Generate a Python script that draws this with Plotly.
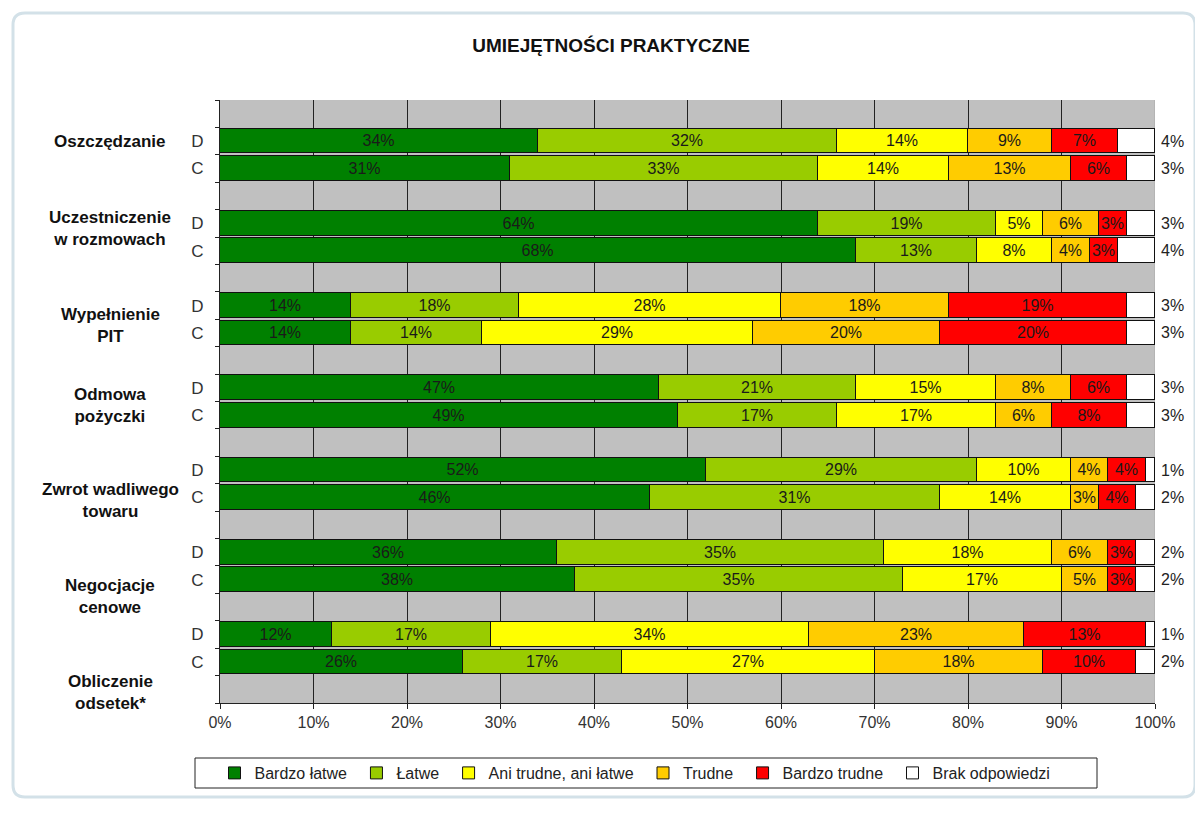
import plotly.graph_objects as go

# ---------------- data ----------------
groups = ["Oszczędzanie", "Uczestniczenie<br>w rozmowach", "Wypełnienie<br>PIT",
          "Odmowa<br>pożyczki", "Zwrot wadliwego<br>towaru", "Negocjacje<br>cenowe",
          "Obliczenie<br>odsetek*"]
subgroups = ["D", "C"]
series_names = ["Bardzo łatwe", "Łatwe", "Ani trudne, ani łatwe", "Trudne",
                "Bardzo trudne", "Brak odpowiedzi"]

# order of rows: for each group D then C
bardzo_latwe = [34, 31, 64, 68, 14, 14, 47, 49, 52, 46, 36, 38, 12, 26]
latwe        = [32, 33, 19, 13, 18, 14, 21, 17, 29, 31, 35, 35, 17, 17]
ani          = [14, 14,  5,  8, 28, 29, 15, 17, 10, 14, 18, 17, 34, 27]
trudne       = [ 9, 13,  6,  4, 18, 20,  8,  6,  4,  3,  6,  5, 23, 18]
bardzo_trud  = [ 7,  6,  3,  3, 19, 20,  6,  8,  4,  4,  3,  3, 13, 10]
brak         = [ 4,  3,  3,  4,  3,  3,  3,  3,  1,  2,  2,  2,  1,  2]

x_ticks = [0, 10, 20, 30, 40, 50, 60, 70, 80, 90, 100]

series_values = [bardzo_latwe, latwe, ani, trudne, bardzo_trud, brak]
colors = ["#008000", "#99CC00", "#FFFF00", "#FFCC00", "#FF0000", "#FFFFFF"]

FONT = "Arial, Liberation Sans, sans-serif"

# ---------------- layout helpers ----------------
OFF = 8                      # page body margin of the html page
W, H = 1203 - OFF, 825 - OFF
L, R, T, B = 220, 1155, 100, 703  # plot area in screen pixels

def px(x):
    return (x - L) / (R - L)

def py(y):
    return (B - y) / (B - T)

# row positions: gap row, D, C, gap row, ...
rows = []
row_text = []
for g in range(len(groups)):
    for s, sg in enumerate(subgroups):
        rows.append(3 * g + 1 + s)
        row_text.append(sg)
n_rows = 3 * len(groups) + 1
boundaries = [r - 0.5 for r in range(n_rows + 1)]

# vertical positions (in row units) of the group captions
label_rows = [1.03, 4.17, 7.71, 10.63, 14.1, 17.6, 21.1]

fig = go.Figure()
for name, vals, col in zip(series_names, series_values, colors):
    is_brak = name == "Brak odpowiedzi"
    fig.add_trace(go.Bar(
        name=name + "\u00a0", x=vals, y=rows, orientation="h",
        marker=dict(color=col, line=dict(color="#111111", width=1)),
        width=0.9,
        text=None if is_brak else [f"{v}%" for v in vals],
        texttemplate=None if is_brak else "%{text}",
        textposition="none" if is_brak else "inside",
        insidetextanchor="middle", textangle=0, constraintext="none",
        textfont=dict(family=FONT, size=16, color="#1a1a1a"),
        hoverinfo="skip",
    ))

annotations = []
for r, v in zip(rows, brak):
    annotations.append(dict(x=100, y=r, xref="x", yref="y", text=f"{v}%",
                            showarrow=False, xanchor="left", xshift=4,
                            font=dict(family=FONT, size=16, color="#222")))
for gname, lr in zip(groups, label_rows):
    annotations.append(dict(x=px(110), y=lr, xref="paper", yref="y", text=f"<b>{gname}</b>",
                            showarrow=False, xanchor="center", yanchor="middle",
                            font=dict(family=FONT, size=17, color="#111")))

# rounded frame around the chart
def rounded_rect(x0, y0, x1, y1, rad):
    X = lambda v: px(v)
    Y = lambda v: py(v)
    return (f"M {X(x0+rad)},{Y(y0)} L {X(x1-rad)},{Y(y0)} Q {X(x1)},{Y(y0)} {X(x1)},{Y(y0+rad)} "
            f"L {X(x1)},{Y(y1-rad)} Q {X(x1)},{Y(y1)} {X(x1-rad)},{Y(y1)} "
            f"L {X(x0+rad)},{Y(y1)} Q {X(x0)},{Y(y1)} {X(x0)},{Y(y1-rad)} "
            f"L {X(x0)},{Y(y0+rad)} Q {X(x0)},{Y(y0)} {X(x0+rad)},{Y(y0)} Z")

shapes = [
    dict(type="path", xref="paper", yref="paper", path=rounded_rect(13, 13, 1195, 797, 12),
         line=dict(color="#D3E1E8", width=3), layer="below"),
    dict(type="rect", xref="paper", yref="paper", x0=px(195), x1=px(1097), y0=py(758), y1=py(788),
         line=dict(color="#222", width=1), fillcolor="rgba(0,0,0,0)"),
    dict(type="line", xref="x", yref="paper", x0=100, x1=100, y0=0, y1=1,
         line=dict(color="#A8A8A8", width=1), layer="between"),
]

fig.update_layout(
    width=W, height=H,
    margin=dict(l=L - OFF, r=W - (R - OFF), t=T - OFF, b=H - (B - OFF), pad=0),
    paper_bgcolor="white", plot_bgcolor="#C0C0C0",
    barmode="stack", bargap=0,
    font=dict(family=FONT, color="#222"),
    title=dict(text="<b>UMIEJĘTNOŚCI PRAKTYCZNE</b>", x=(611 - OFF) / W, xanchor="center",
               y=1 - (45 - OFF) / H, yanchor="middle",
               font=dict(family=FONT, size=19, color="#111")),
    xaxis=dict(range=[0, 100], tickvals=x_ticks, ticktext=[f"{t}%" for t in x_ticks],
               showgrid=True, gridcolor="#222", gridwidth=1, zeroline=False,
               showline=True, linecolor="#222", linewidth=1,
               ticks="outside", ticklen=5, tickcolor="#222",
               tickfont=dict(size=16, color="#333"), fixedrange=True),
    yaxis=dict(range=[n_rows - 0.5, -0.5], tickvals=rows, ticktext=row_text,
               ticks="", showgrid=False, zeroline=False,
               showline=True, linecolor="#222", linewidth=1,
               ticklabelstandoff=12,
               tickfont=dict(size=17, color="#333"),
               minor=dict(tickmode="array", tickvals=boundaries, ticks="outside",
                          ticklen=4, tickcolor="#222", showgrid=False)),
    legend=dict(orientation="h", x=px(637), xanchor="center", y=py(773), yanchor="middle",
                font=dict(size=16, color="#222"), bgcolor="rgba(0,0,0,0)",
                traceorder="normal", itemclick=False),
    annotations=annotations,
    shapes=shapes,
)

fig.write_html("out.html")
